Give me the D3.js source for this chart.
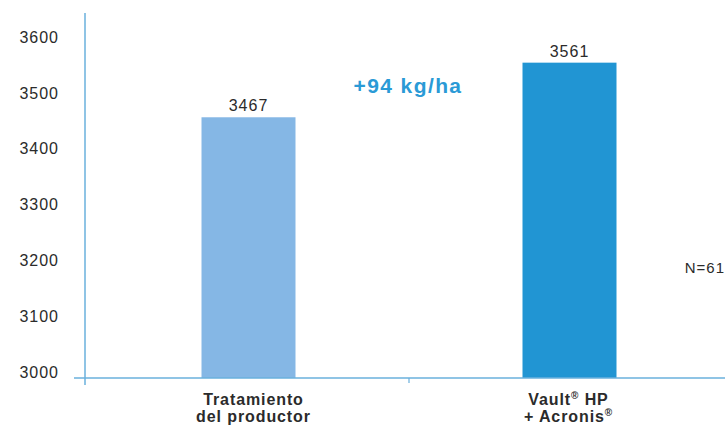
<!DOCTYPE html>
<html>
<head>
<meta charset="utf-8">
<script src="https://cdn.jsdelivr.net/npm/d3@7"></script>
<style>
  body { margin: 0; background: #fff; }
  text { font-family: "Liberation Sans", Arial, Helvetica, sans-serif; }
</style>
</head>
<body>
<div id="chart"></div>
<script>
// data
var categories = ["Tratamiento|del productor", "Vault® HP|+ Acronis®"];
var values = [3467, 3561];
var barColors = ["#85b7e5", "#2195d3"];
var yTicks = [3000, 3100, 3200, 3300, 3400, 3500, 3600];

var svgWidth = 725;
var svgHeight = 428;

var svg = d3.select("#chart")
  .append("svg")
  .attr("width", svgWidth)
  .attr("height", svgHeight);

var axisColor = "#6ab0dc";
var textColor = "#2b2b2b";
var baseY = 378;

// scales (bars are drawn a little taller than the tick grid in the original)
var xScale = d3.scaleBand()
  .domain(categories)
  .range([88, 730])
  .padding(0);

var yScale = d3.scaleLinear()
  .domain([3000, 3600])
  .range([388.6, 40]);

var tickScale = d3.scaleLinear()
  .domain([3000, 3600])
  .range([378, 43]);

var barWidth = 94;

// bars
svg.selectAll("rect.bar")
  .data(values)
  .enter()
  .append("rect")
  .attr("class", "bar")
  .attr("x", (d, i) => xScale(categories[i]) + xScale.bandwidth() / 2 - barWidth / 2)
  .attr("y", d => yScale(d))
  .attr("width", barWidth)
  .attr("height", d => baseY - yScale(d))
  .attr("fill", (d, i) => barColors[i]);

// value labels
svg.selectAll("text.val")
  .data(values)
  .enter()
  .append("text")
  .attr("class", "val")
  .attr("x", (d, i) => xScale(categories[i]) + xScale.bandwidth() / 2)
  .attr("y", d => yScale(d) - 6)
  .attr("text-anchor", "middle")
  .attr("font-size", 16)
  .attr("letter-spacing", 1)
  .attr("fill", textColor)
  .text(d => d);

// y axis
var leftAxis = d3.axisLeft(tickScale)
  .tickValues(yTicks)
  .tickFormat(d3.format("d"))
  .tickSize(0)
  .tickPadding(26);
var yAxisG = svg.append("g")
  .attr("transform", "translate(85,0)")
  .call(leftAxis);
yAxisG.select(".domain").remove();
yAxisG.selectAll("text")
  .attr("font-size", 16)
  .attr("letter-spacing", 1)
  .attr("fill", textColor)
  .attr("dy", "-0.05em")
  .style("font-family", "'Liberation Sans', Arial, sans-serif");

svg.append("line")
  .attr("x1", 85).attr("x2", 85)
  .attr("y1", 13).attr("y2", 385)
  .attr("stroke", axisColor)
  .attr("stroke-width", 1.5);

// x axis
svg.append("line")
  .attr("x1", 74).attr("x2", 725)
  .attr("y1", baseY).attr("y2", baseY)
  .attr("stroke", axisColor)
  .attr("stroke-width", 1.5);

svg.append("line")
  .attr("x1", xScale(categories[1])).attr("x2", xScale(categories[1]))
  .attr("y1", baseY).attr("y2", baseY + 5)
  .attr("stroke", axisColor)
  .attr("stroke-width", 1.2);

// category labels
var catOffsets = [5, -1];
categories.forEach(function(c, i) {
  var lines = c.split("|");
  var t = svg.append("text")
    .attr("text-anchor", "middle")
    .attr("font-size", 16)
    .attr("letter-spacing", 0.9)
    .attr("font-weight", "bold")
    .attr("fill", textColor);
  lines.forEach(function(l, j) {
    var tsp = t.append("tspan")
      .attr("x", xScale(c) + xScale.bandwidth() / 2 + catOffsets[i])
      .attr("y", 405 + j * 17);
    // superscript registered marks
    var parts = l.split("®");
    parts.forEach(function(part, k) {
      var p = tsp.append("tspan").text(part);
      if (k > 0) p.attr("dy", 6);
      if (k < parts.length - 1) {
        tsp.append("tspan")
          .attr("font-size", 10)
          .attr("dy", -6)
          .text("®");
      }
    });
  });
});

// difference annotation
svg.append("text")
  .attr("x", 408)
  .attr("y", 93)
  .attr("text-anchor", "middle")
  .attr("font-size", 21)
  .attr("letter-spacing", 1.4)
  .attr("font-weight", "bold")
  .attr("fill", "#2a9ad6")
  .text("+94 kg/ha");

// sample size
svg.append("text")
  .attr("x", 725)
  .attr("y", 273)
  .attr("text-anchor", "end")
  .attr("font-size", 15)
  .attr("letter-spacing", 1)
  .attr("fill", textColor)
  .text("N=61");
</script>
</body>
</html>
